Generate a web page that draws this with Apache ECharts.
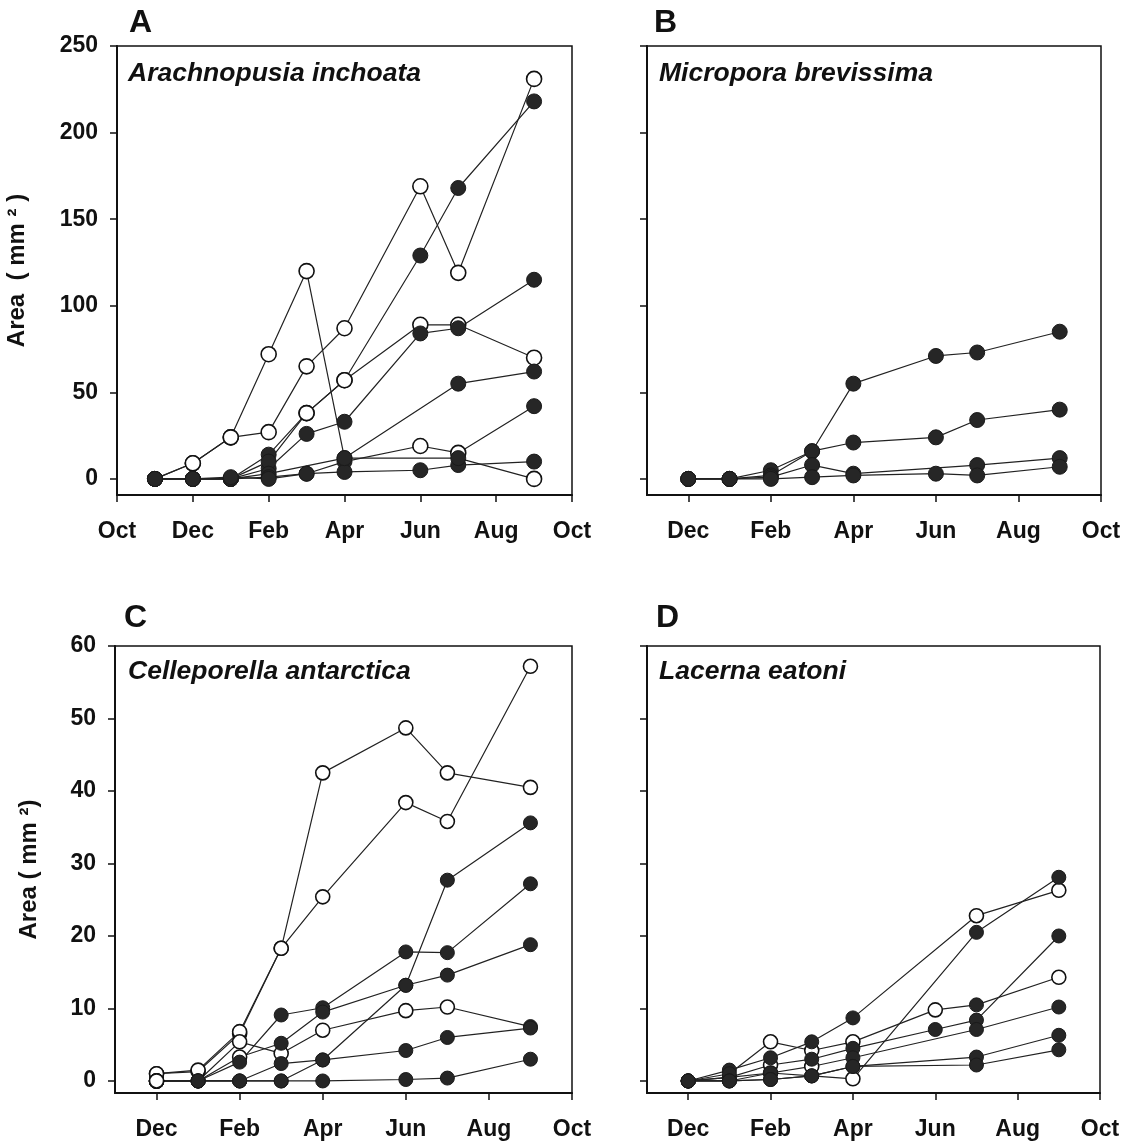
<!DOCTYPE html>
<html>
<head>
<meta charset="utf-8">
<script src="https://cdn.jsdelivr.net/npm/echarts@6/dist/echarts.min.js"></script>
<style>
html,body{margin:0;padding:0;background:#fff;}
#chart{width:1127px;height:1146px;}
</style>
</head>
<body>
<div id="chart"></div>
<script>
// Month index: Oct = 0 ... Oct (next year) = 12
const monthNames = ['Oct','Nov','Dec','Jan','Feb','Mar','Apr','May','Jun','Jul','Aug','Sep','Oct'];
const ticksA = [0,2,4,6,8,10,12];
const ticksBCD = [2,4,6,8,10,12];
const yTicksAB = [0,50,100,150,200,250];
const yTicksCD = [0,10,20,30,40,50,60];

// Panel A: Arachnopusia inchoata  (Nov, Dec, Jan, Feb, Mar, Apr, Jun, Jul, Sep)
const monthsA = [1,2,3,4,5,6,8,9,11];
const a1 = [0, 9, 24, 27, 65, 87, 169, 119, 231];
const a1Open = [0,1,1,1,1,1,1,1,1];
const a2 = [0, 0, 0, 14, 38, 57, 129, 168, 218];
const a2Open = [0,0,0,0,1,1,0,0,0];
const a3 = [0, 0, 0, 6, 26, 33, 84, 87, 115];
const a3Open = [0,0,0,0,0,0,0,0,0];
const a4 = [0, 0, 0, 10, 38, 57, 89, 89, 70];
const a4Open = [0,0,0,0,1,1,1,1,1];
const a5 = [0, 0, 0, 3, null, 12, null, 55, 62];
const a5Open = [0,0,0,0,0,0,0,0,0];
const a6 = [0, 0, 0, 1, 3, 10, 19, 15, 42];
const a6Open = [0,0,0,0,0,0,1,1,0];
const a7 = [0, 0, 1, 0, 3, 4, 5, 8, 10];
const a7Open = [0,0,0,0,0,0,0,0,0];
const a8 = [0, 9, 24, 72, 120, 12, null, 12, 0];
const a8Open = [0,1,1,1,1,0,0,0,1];

// Panel B: Micropora brevissima  (Dec, Jan, Feb, Mar, Apr, Jun, Jul, Sep)
const monthsB = [2,3,4,5,6,8,9,11];
const b1 = [0, 0, 5, 16, 55, 71, 73, 85];
const b2 = [0, 0, 2, 16, 21, 24, 34, 40];
const b3 = [0, 0, 1, 8, 3, null, 8, 12];
const b4 = [0, 0, 0, 1, 2, 3, 2, 7];
const bOpen = [0,0,0,0,0,0,0,0];

// Panel C: Celleporella antarctica  (Dec, Jan, Feb, Mar, Apr, Jun, Jul, Sep)
const monthsC = [2,3,4,5,6,8,9,11];
const c1 = [1, 1.3, 6.5, 18.3, 42.5, 48.7, 42.5, 40.5];
const c1Open = [1,1,1,1,1,1,1,1];
const c2 = [1, 1.5, 6.8, 18.3, 25.4, 38.4, 35.8, 57.2];
const c2Open = [1,1,1,1,1,1,1,1];
const c3 = [0, 0, 0, 0, 2.9, 13.2, 27.7, 35.6];
const c3Open = [1,0,0,0,0,0,0,0];
const c4 = [0, 0, 2.6, 9.1, 10.1, 17.8, 17.7, 27.2];
const c4Open = [1,0,0,0,0,0,0,0];
const c5 = [0, 0, 3.3, 5.2, 9.5, 13.2, 14.6, 18.8];
const c5Open = [1,0,1,0,0,0,0,0];
const c6 = [0, 0, 5.4, 3.8, 7, 9.7, 10.2, 7.5];
const c6Open = [1,0,1,1,1,1,1,0];
const c7 = [0, 0, 0, 2.4, 2.9, 4.2, 6.0, 7.3];
const c7Open = [1,0,0,0,0,0,0,0];
const c8 = [0, 0, 0, 0, 0, 0.2, 0.4, 3.0];
const c8Open = [1,0,0,0,0,0,0,0];

// Panel D: Lacerna eatoni  (Dec, Jan, Feb, Mar, Apr, Jun, Jul, Sep)
const monthsD = [2,3,4,5,6,8,9,11];
const d1 = [0, 0.5, 1.1, 0.7, 0.3, null, 20.5, 28.1];
const d1Open = [0,0,0,0,1,0,0,0];
const d2 = [0, 1.5, 3.2, 5.4, 8.7, null, 22.8, 26.3];
const d2Open = [0,0,0,0,0,0,1,1];
const d3 = [0, 0.5, 2.2, 3.0, 4.5, 7.1, 8.4, 20.0];
const d3Open = [0,0,1,0,0,0,0,0];
const d4 = [0, 1.0, 5.4, 4.2, 5.4, 9.8, 10.5, 14.3];
const d4Open = [0,0,1,1,1,1,0,1];
const d5 = [0, 0, 1.1, 2.0, 3.2, null, 7.1, 10.2];
const d5Open = [0,0,1,1,0,0,0,0];
const d6 = [0, 0, 0.2, 0.7, 2.0, null, 3.3, 6.3];
const d6Open = [0,0,0,0,0,0,0,0];
const d7 = [0, 0, 0.2, 0.7, 2.0, null, 2.2, 4.3];
const d7Open = [0,0,0,0,0,0,0,0];

const FONT = '"Liberation Sans", Arial, Helvetica, sans-serif';
const INK = '#111';

const chart = echarts.init(document.getElementById('chart'), null, {renderer: 'canvas'});

const series = [];
function addPanel(g, months, list, symSize) {
  const openPts = [], fillPts = [];
  list.forEach(([vals, open]) => {
    const pts = [];
    vals.forEach((v, i) => {
      if (v === null || v === undefined) return;
      pts.push([months[i], v]);
      if (open[i]) openPts.push([months[i], v]); else fillPts.push([months[i], v]);
    });
    series.push({
      type: 'line', xAxisIndex: g, yAxisIndex: g, data: pts,
      symbol: 'none', lineStyle: {color: '#222', width: 1.2}, z: 2,
      animation: false, silent: true
    });
  });
  series.push({
    type: 'scatter', xAxisIndex: g, yAxisIndex: g, data: openPts, symbolSize: symSize,
    itemStyle: {color: '#fff', borderColor: INK, borderWidth: 1.6, opacity: 1}, z: 3,
    animation: false, silent: true
  });
  series.push({
    type: 'scatter', xAxisIndex: g, yAxisIndex: g, data: fillPts, symbolSize: symSize,
    itemStyle: {color: '#262626', borderColor: '#1a1a1a', borderWidth: 1, opacity: 1}, z: 4,
    animation: false, silent: true
  });
}

addPanel(0, monthsA, [[a1,a1Open],[a2,a2Open],[a3,a3Open],[a4,a4Open],[a5,a5Open],[a6,a6Open],[a7,a7Open],[a8,a8Open]], 15);
addPanel(1, monthsB, [[b1,bOpen],[b2,bOpen],[b3,bOpen],[b4,bOpen]], 15);
addPanel(2, monthsC, [[c1,c1Open],[c2,c2Open],[c3,c3Open],[c4,c4Open],[c5,c5Open],[c6,c6Open],[c7,c7Open],[c8,c8Open]], 14);
addPanel(3, monthsD, [[d1,d1Open],[d2,d2Open],[d3,d3Open],[d4,d4Open],[d5,d5Open],[d6,d6Open],[d7,d7Open]], 14);

const labelStyle = {fontFamily: FONT, fontSize: 23, fontWeight: 'bold', color: INK};

function xAx(g, min, ticks) {
  return {
    type: 'value', gridIndex: g, min: min, max: 12,
    axisLine: {show: true, onZero: false, lineStyle: {color: INK, width: 2}},
    axisTick: {show: true, inside: false, length: 7, lineStyle: {color: INK, width: 1.5}, customValues: ticks},
    axisLabel: Object.assign({show: true, margin: 25, customValues: ticks,
      formatter: v => monthNames[Math.round(v)]}, labelStyle),
    splitLine: {show: false}
  };
}
function yAx(g, min, max, ticks, showLabel, name, gap) {
  return {
    type: 'value', gridIndex: g, min: min, max: max,
    axisLine: {show: true, onZero: false, lineStyle: {color: INK, width: 2}},
    axisTick: {show: true, inside: false, length: 7, lineStyle: {color: INK, width: 1.5}, customValues: ticks},
    axisLabel: Object.assign({show: showLabel, margin: 19, customValues: ticks}, labelStyle),
    splitLine: {show: false},
    name: name || '', nameLocation: 'middle', nameRotate: 90, nameGap: gap || 0,
    nameTextStyle: {fontFamily: FONT, fontSize: 24, fontWeight: 'bold', color: INK}
  };
}

const gridStyle = {show: true, borderColor: INK, borderWidth: 1.5, backgroundColor: 'transparent'};

chart.setOption({
  backgroundColor: '#fff',
  animation: false,
  grid: [
    Object.assign({left: 117, top: 46, width: 455, height: 449}, gridStyle),
    Object.assign({left: 647, top: 46, width: 454, height: 449}, gridStyle),
    Object.assign({left: 115, top: 646, width: 457, height: 447}, gridStyle),
    Object.assign({left: 647, top: 646, width: 453, height: 447}, gridStyle)
  ],
  xAxis: [xAx(0, 0, ticksA), xAx(1, 1, ticksBCD), xAx(2, 1, ticksBCD), xAx(3, 1, ticksBCD)],
  yAxis: [
    yAx(0, -9.3, 250, yTicksAB, true, 'Area  ( mm \u00B2 )', 88),
    yAx(1, -9.3, 250, yTicksAB, false),
    yAx(2, -1.66, 60, yTicksCD, true, 'Area ( mm \u00B2)', 74),
    yAx(3, -1.66, 60, yTicksCD, false)
  ],
  graphic: [
    {type: 'text', left: 129, top: 7, style: {text: 'A', font: 'bold 32px ' + FONT, fill: INK}},
    {type: 'text', left: 654, top: 7, style: {text: 'B', font: 'bold 32px ' + FONT, fill: INK}},
    {type: 'text', left: 124, top: 602, style: {text: 'C', font: 'bold 32px ' + FONT, fill: INK}},
    {type: 'text', left: 656, top: 602, style: {text: 'D', font: 'bold 32px ' + FONT, fill: INK}},
    {type: 'text', left: 128, top: 60, style: {text: 'Arachnopusia inchoata', font: 'italic bold 26.5px ' + FONT, fill: INK}},
    {type: 'text', left: 659, top: 60, style: {text: 'Micropora brevissima', font: 'italic bold 26.5px ' + FONT, fill: INK}},
    {type: 'text', left: 128, top: 658, style: {text: 'Celleporella antarctica', font: 'italic bold 26.5px ' + FONT, fill: INK}},
    {type: 'text', left: 659, top: 658, style: {text: 'Lacerna eatoni', font: 'italic bold 26.5px ' + FONT, fill: INK}}
  ],
  series: series
});
</script>
</body>
</html>
